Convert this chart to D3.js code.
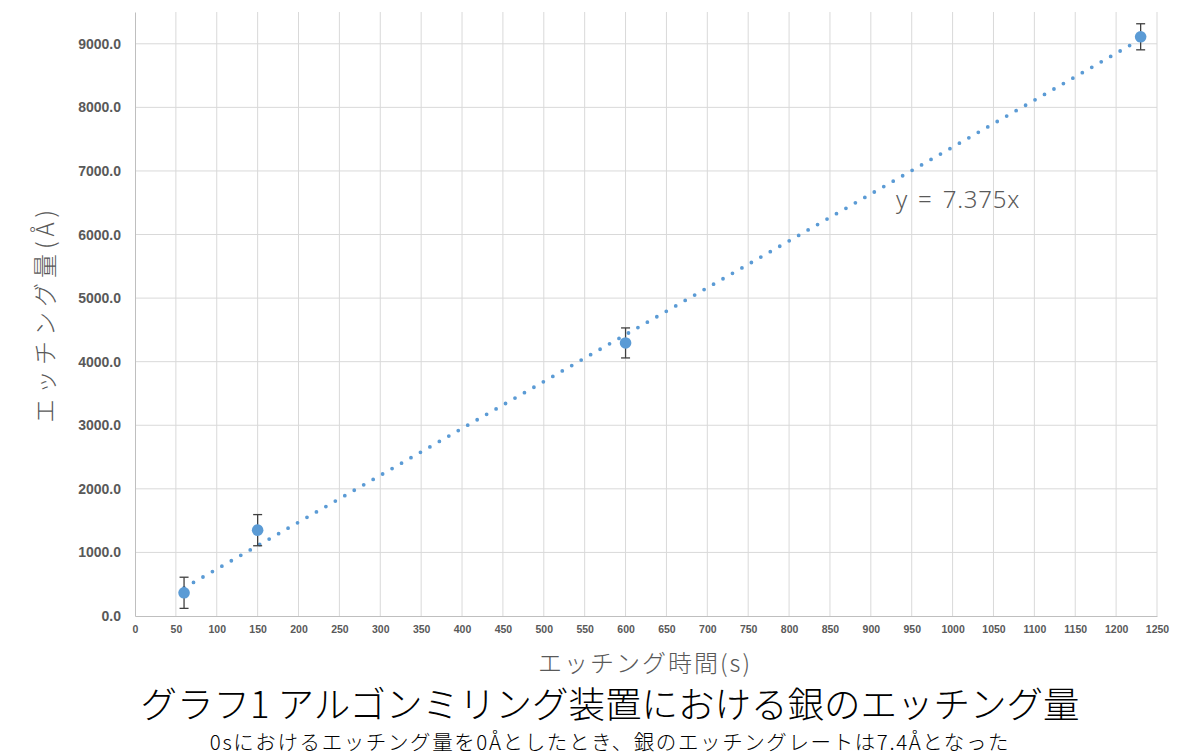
<!DOCTYPE html>
<html><head><meta charset="utf-8">
<script src="https://cdn.jsdelivr.net/npm/d3@7/dist/d3.min.js"></script>
<style>body{margin:0;background:#fff;} svg{display:block;}</style>
</head><body>
<svg id="c" width="1200" height="755"></svg>
<script>
const times = [60, 150, 600, 1230];
const etch = [365, 1350, 4295, 9110];
const errs = [245, 245, 236, 205];
const slope = 7.375;
const xTicks = d3.range(0, 1251, 50);
const yTicks = d3.range(0, 9001, 1000);
const xTitle = "エッチング時間(s)";
const yTitle = "エッチング量(Å)";
const title = "グラフ1 アルゴンミリング装置における銀のエッチング量";
const subtitle = "0sにおけるエッチング量を0Åとしたとき、銀のエッチングレートは7.4Åとなった";
const eqLabel = "y = 7.375x";

const svg = d3.select("#c");
const L = 135, R = 1157, T = 12, B = 616;
const x = d3.scaleLinear().domain([0, 1250]).range([L, R]);
const y = d3.scaleLinear().domain([0, 9500]).range([B, T]);
const jp = "'Noto Sans CJK JP','Noto Sans',sans-serif";

// grid
svg.append("g").selectAll("line").data(yTicks.filter(d => d > 0)).join("line")
  .attr("x1", L).attr("x2", R).attr("y1", d => y(d)).attr("y2", d => y(d))
  .attr("stroke", "#d9d9d9").attr("stroke-width", 1);
svg.append("g").selectAll("line").data(xTicks.filter(d => d > 0)).join("line")
  .attr("x1", d => x(d)).attr("x2", d => x(d)).attr("y1", T).attr("y2", B)
  .attr("stroke", "#d9d9d9").attr("stroke-width", 1);

// axes
const xa = svg.append("g").attr("transform", `translate(0,${B})`)
  .call(d3.axisBottom(x).tickValues(xTicks).tickSize(0).tickPadding(10).tickFormat(d3.format("d")));
xa.select(".domain").attr("stroke", "#bfbfbf");
xa.selectAll("text").attr("font-family", "'Liberation Sans',Arial,sans-serif").attr("font-size", 10.5)
  .attr("font-weight", "bold").attr("fill", "#595959");
const ya = svg.append("g").attr("transform", `translate(${L},0)`)
  .call(d3.axisLeft(y).tickValues(yTicks).tickSize(0).tickPadding(14).tickFormat(d3.format(".1f")));
ya.select(".domain").attr("stroke", "#bfbfbf");
ya.selectAll("text").attr("font-family", "'Liberation Sans',Arial,sans-serif").attr("font-size", 14)
  .attr("font-weight", "bold").attr("fill", "#595959");

// trendline
svg.append("line")
  .attr("x1", x(times[0])).attr("y1", y(slope * times[0]))
  .attr("x2", x(times[times.length - 1])).attr("y2", y(slope * times[times.length - 1]))
  .attr("stroke", "#5b9bd5").attr("stroke-width", 3.8).attr("stroke-linecap", "round")
  .attr("stroke-dasharray", "0 10.9");

// error bars
const eb = svg.append("g").attr("stroke", "#404040").attr("stroke-width", 1.3);
times.forEach((t, i) => {
  eb.append("line").attr("x1", x(t)).attr("x2", x(t)).attr("y1", y(etch[i] - errs[i])).attr("y2", y(etch[i] + errs[i]));
  [etch[i] - errs[i], etch[i] + errs[i]].forEach(v => {
    eb.append("line").attr("x1", x(t) - 4.5).attr("x2", x(t) + 4.5).attr("y1", y(v)).attr("y2", y(v));
  });
});

// points
svg.append("g").selectAll("circle").data(times).join("circle")
  .attr("cx", d => x(d)).attr("cy", (d, i) => y(etch[i])).attr("r", 5.8).attr("fill", "#5b9bd5");

// equation
svg.append("text").attr("x", 896).attr("y", 208).attr("xml:space", "preserve").text(eqLabel)
  .attr("font-family", "'Noto Sans','Liberation Sans',sans-serif").attr("font-weight", 300)
  .attr("font-size", 24).attr("letter-spacing", 0.8).attr("word-spacing", 3).attr("fill", "#595959");

// axis titles
svg.append("text").attr("x", (L + R) / 2 - 1).attr("y", 672).attr("text-anchor", "middle").text(xTitle)
  .attr("font-family", jp).attr("font-weight", 300).attr("font-size", 24).attr("letter-spacing", 2).attr("fill", "#595959");
svg.append("text").attr("transform", "translate(54,314) rotate(-90)").attr("text-anchor", "middle").text(yTitle)
  .attr("font-family", jp).attr("font-weight", 300).attr("font-size", 24).attr("letter-spacing", 5).attr("fill", "#595959");

// titles
svg.append("text").attr("x", 610).attr("y", 718).attr("text-anchor", "middle").text(title)
  .attr("font-family", jp).attr("font-weight", 300).attr("font-size", 36.5).attr("fill", "#000");
svg.append("text").attr("x", 610).attr("y", 750).attr("text-anchor", "middle").text(subtitle)
  .attr("font-family", jp).attr("font-weight", 300).attr("font-size", 20.5).attr("letter-spacing", 1.6).attr("fill", "#000");
</script>
</body></html>
